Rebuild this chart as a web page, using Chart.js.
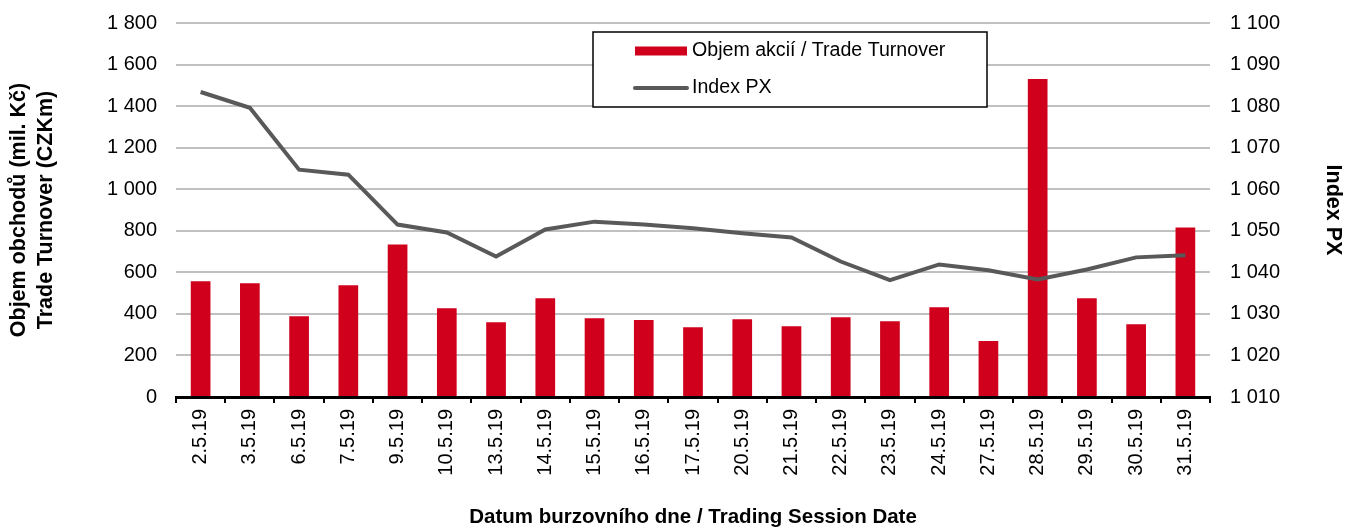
<!DOCTYPE html>
<html>
<head>
<meta charset="utf-8">
<script src="https://cdn.jsdelivr.net/npm/chart.js@4.4.0/dist/chart.umd.min.js"></script>
<style>
  html, body { margin: 0; padding: 0; background: #fff; }
  #wrap { width: 1346px; height: 527px; }
</style>
</head>
<body>
<div id="wrap"><canvas id="graf"></canvas></div>
<script>
const dny = ['2.5.19', '3.5.19', '6.5.19', '7.5.19', '9.5.19', '10.5.19', '13.5.19', '14.5.19', '15.5.19', '16.5.19',
    '17.5.19', '20.5.19', '21.5.19', '22.5.19', '23.5.19', '24.5.19', '27.5.19', '28.5.19', '29.5.19', '30.5.19', '31.5.19']
const objem = [557, 547, 389, 538, 734, 427, 360, 475, 379, 370, 336, 374, 341, 384, 365, 432, 269, 1531, 475, 350, 816]
const indexPx = [1083.4, 1079.6, 1064.7, 1063.5, 1051.5, 1049.6, 1043.8, 1050.3, 1052.2, 1051.5, 1050.6, 1049.4, 1048.4,
    1042.6, 1038.1, 1041.9, 1040.5, 1038.3, 1040.7, 1043.6, 1044.1]

const pismo = "'Liberation Sans', Arial, sans-serif"

// mezera jako oddelovac tisicu (1 800)
function fmt(v) {
    return String(Math.round(v)).replace(/\B(?=(\d{3})+(?!\d))/g, ' ')
}

// pevna sirka osy, bez extra odsazeni nahore/dole
function pevnaOsa(sirka) {
    return (scale) => {
        scale.width = sirka
        scale.paddingTop = 0
        scale.paddingBottom = 0
    }
}

// legenda v ramecku uvnitr grafu
const legendaBox = {
    id: 'legendaBox',
    afterDraw(chart) {
        const c = chart.ctx
        const x = 593, y = 32, w = 394, h = 75
        c.save()
        c.fillStyle = '#fff'
        c.fillRect(x, y, w, h)
        c.strokeStyle = '#000'
        c.lineWidth = 1.5
        c.strokeRect(x, y, w, h)
        c.font = '19.6px ' + pismo
        c.fillStyle = '#000'
        c.textBaseline = 'middle'
        chart.data.datasets.forEach((ds, i) => {
            const cy = y + 19 + i * 37
            if (ds.type === 'line') {
                c.strokeStyle = ds.borderColor
                c.lineWidth = 4
                c.lineCap = 'round'
                c.beginPath()
                c.moveTo(635, cy)
                c.lineTo(687, cy)
                c.stroke()
            } else {
                c.fillStyle = ds.backgroundColor
                c.fillRect(635, cy - 4.5, 52, 9)
            }
            c.fillStyle = '#000'
            c.fillText(ds.label, 692, cy)
        })
        c.restore()
    }
}

const ctx = document.getElementById('graf').getContext('2d')
const chart = new Chart(ctx, {
    data: {
        labels: dny,
        datasets: [{
                type: 'bar',
                label: 'Objem akcií / Trade Turnover',
                data: objem,
                backgroundColor: '#D0001C',
                borderWidth: 0,
                barPercentage: 0.8,
                categoryPercentage: 0.5,
                yAxisID: 'y',
                order: 1
            }, {
                type: 'line',
                label: 'Index PX',
                data: indexPx,
                borderColor: '#595959',
                borderWidth: 4,
                pointRadius: 0, // bez bodu
                tension: 0,
                fill: false,
                yAxisID: 'y1',
                order: 0
            }]
    },
    options: {
        responsive: true,
        maintainAspectRatio: false,
        animation: false,
        layout: { padding: { top: 23, left: 0, right: 0, bottom: 0 } },
        plugins: {
            legend: { display: false },
            tooltip: { enabled: false }
        },
        scales: {
            x: {
                grid: {
                    offset: true,
                    drawOnChartArea: false,
                    drawTicks: true,
                    tickLength: 6,
                    color: '#000',
                    lineWidth: 2
                },
                border: { display: true, color: '#000', width: 3 },
                ticks: {
                    autoSkip: false,
                    minRotation: 90,
                    maxRotation: 90,
                    padding: 6,
                    color: '#000',
                    font: { family: pismo, size: 20 }
                },
                title: {
                    display: true,
                    text: 'Datum burzovního dne / Trading Session Date',
                    color: '#000',
                    font: { family: pismo, size: 20.5, weight: 'bold' },
                    padding: { top: 0, bottom: -3 }
                },
                afterFit(scale) { scale.height = 130 }
            },
            y: {
                position: 'left',
                min: 0,
                max: 1800,
                ticks: {
                    stepSize: 200,
                    padding: 19,
                    color: '#000',
                    font: { family: pismo, size: 20 },
                    callback: (v) => fmt(v)
                },
                grid: { color: '#C0C0C0', lineWidth: 2, drawTicks: false },
                border: { display: false },
                title: {
                    display: true,
                    text: ['Objem obchodů (mil. Kč)', 'Trade Turnover (CZKm)'],
                    color: '#000',
                    font: { family: pismo, size: 21.5, weight: 'bold', lineHeight: 1.25 },
                    padding: { top: 6, bottom: 0 }
                },
                afterFit: pevnaOsa(176)
            },
            y1: {
                position: 'right',
                min: 1010,
                max: 1100,
                ticks: {
                    stepSize: 10,
                    padding: 20,
                    color: '#000',
                    font: { family: pismo, size: 20 },
                    callback: (v) => fmt(v)
                },
                grid: { drawOnChartArea: false, drawTicks: false },
                border: { display: false },
                title: {
                    display: true,
                    text: 'Index PX',
                    color: '#000',
                    font: { family: pismo, size: 21.5, weight: 'bold' },
                    padding: { top: 0, bottom: 8 }
                },
                afterFit: pevnaOsa(136)
            }
        }
    },
    plugins: [legendaBox]
})
</script>
</body>
</html>
